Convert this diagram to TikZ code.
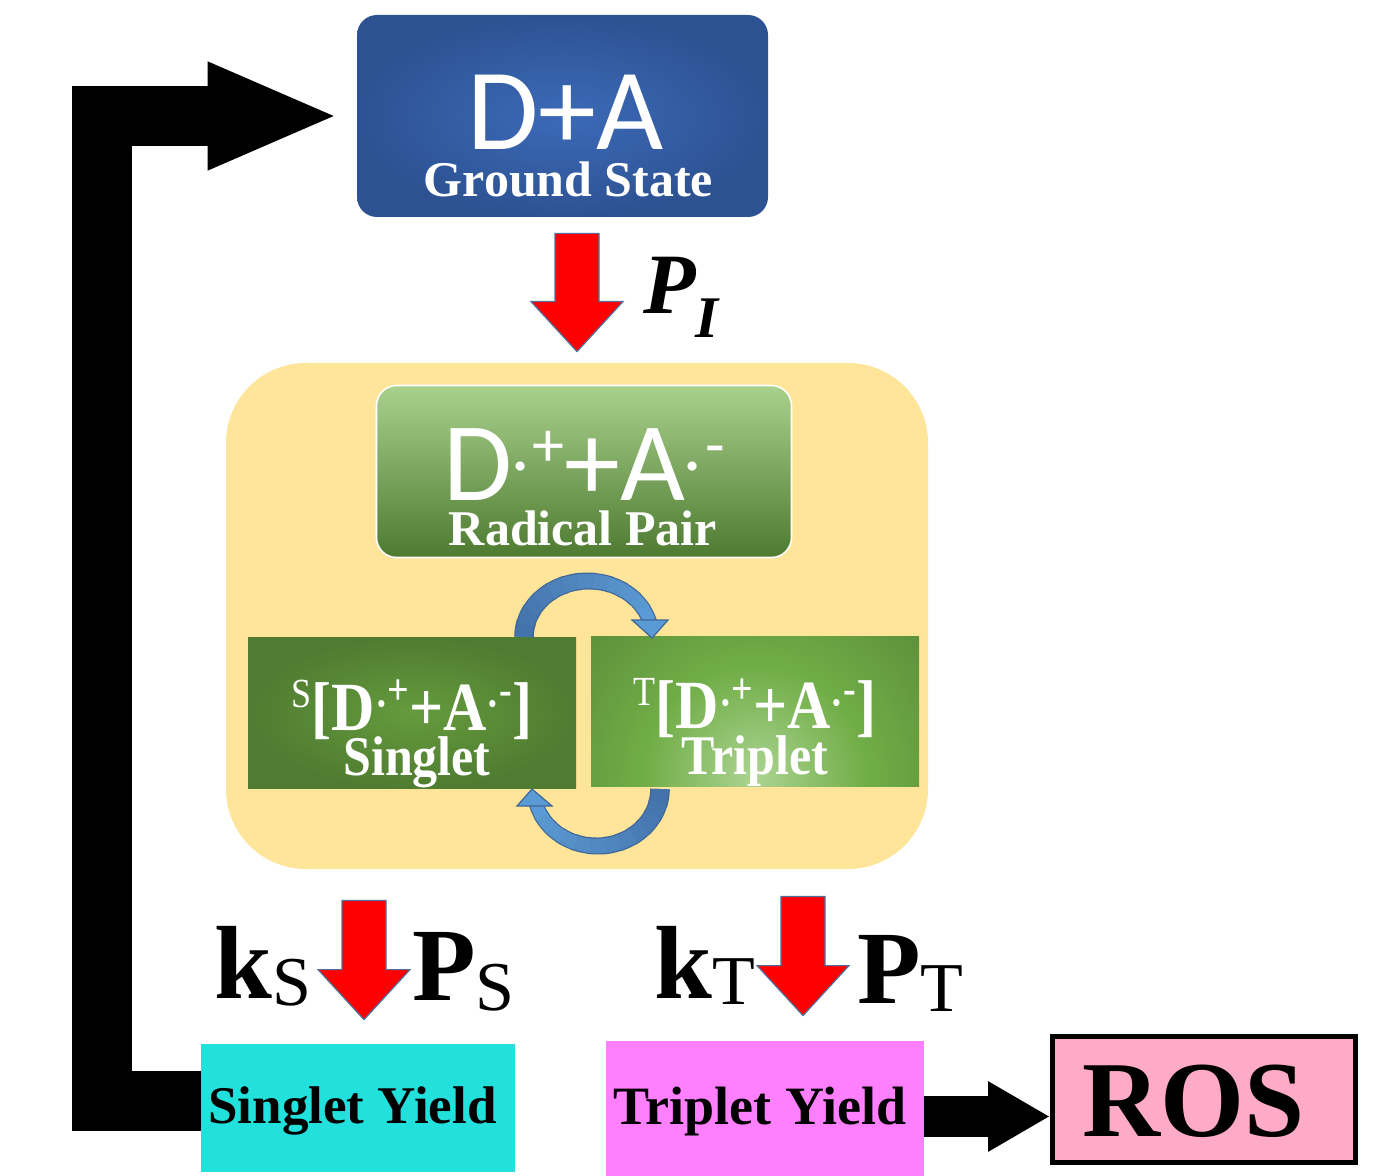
\documentclass[tikz,border=0pt]{standalone}
\usepackage{fontspec}
\setmainfont{Liberation Serif}
\newfontfamily\calfont{Carlito}
\usepackage{graphicx}
\usetikzlibrary{arrows.meta,calc}
\definecolor{gsinner}   {RGB}{ 60,106,184}
\definecolor{gsouter}   {RGB}{ 45, 82,146}
\definecolor{regionfill}{RGB}{255,229,153}
\definecolor{rptop}     {RGB}{169,209,142}
\definecolor{rpmid}     {RGB}{112,173, 71}
\definecolor{rpbot}     {RGB}{ 78,122, 48}
\definecolor{stateinner}{RGB}{101,155, 61}
\definecolor{stateouter}{RGB}{ 79,124, 49}
\definecolor{tripspot}  {RGB}{172,212,146}
\definecolor{flipdark}  {RGB}{ 68,114,170}
\definecolor{fliplight} {RGB}{ 91,155,213}
\definecolor{flipedge}  {RGB}{ 62,102,152}
\definecolor{arrowred}  {RGB}{255,  0,  0}
\definecolor{arrowedge} {RGB}{ 79,112,156}
\definecolor{singyield} {RGB}{ 34,224,220}
\definecolor{tripyield} {RGB}{255,128,255}
\definecolor{rosfill}   {RGB}{255,171,200}
\pgfdeclareradialshading{tripglow}{\pgfpoint{0bp}{0bp}}{%
  color(0bp)=(tripspot); color(9bp)=(rpmid); color(24bp)=(stateouter); color(50bp)=(stateouter)}
% radical superscripts: dot low, charge high
\newcommand\bigrad[1]{{\fontsize{32}{32}\selectfont\raisebox{8pt}{·}\hspace{2pt}\raisebox{17pt}{#1}}}
\newcommand\smallrad[1]{{\fontsize{19}{19}\selectfont\raisebox{5pt}{·}\raisebox{11pt}{#1}}}
\newcommand\spinmark[1]{\raisebox{10pt}{\fontsize{18}{18}\selectfont\mdseries #1}}
\newcommand\ratesub[2]{{\fontsize{35}{35}\selectfont\mdseries\raisebox{-#2}{#1}}}
% red block arrow from #1 down to tip #2
\newcommand\redarrow[2]{%
  \draw[redarr] ($(#1)+(-22,0)$) -- ($(#1)+(22,0)$) -- ($(#2)+(22,-50)$)
    -- ($(#2)+(46,-50)$) -- (#2) -- ($(#2)+(-46,-50)$) -- ($(#2)+(-22,-50)$) -- cycle;}
% curved blue arrow body: centre, radii, start/end angle
\newcommand\fliparc[6]{%
  \foreach \i in {0,...,11}{
    \draw[flipedge,line width={9.8pt-0.22pt*\i}]
      plot[domain={#5+(#6-#5)*\i/12}:{#5+(#6-#5)*(\i+1.15)/12},samples=6,variable=\t]
      ({#1+#3*cos(\t)},{#2+#4*sin(\t)});}
  \foreach \i in {0,...,11}{
    \pgfmathsetmacro\mixval{100-100*\i/11}
    \draw[flipdark!\mixval!fliplight,line width={8.6pt-0.22pt*\i}]
      plot[domain={#5+(#6-#5)*\i/12}:{#5+(#6-#5)*(\i+1.15)/12},samples=6,variable=\t]
      ({#1+#3*cos(\t)},{#2+#4*sin(\t)});}}

\begin{document}
\begin{tikzpicture}[
  x=0.5pt,y=-0.5pt,
  line join=miter,
  gsbox/.style={rounded corners=10pt,minimum width=205.5pt,minimum height=101pt,
    shade,inner color=gsinner,outer color=gsouter,text=white,align=center,inner sep=0pt,
    font=\fontsize{25}{23.5}\selectfont\bfseries},
  regionbox/.style={rounded corners=40pt,fill=regionfill,minimum width=351pt,minimum height=253pt},
  rpbox/.style={rounded corners=10pt,minimum width=207.5pt,minimum height=86pt,
    shade,top color=rptop,middle color=rpmid,bottom color=rpbot,draw=white,line width=0.8pt,
    text=white,align=center,inner sep=0pt,font=\fontsize{25}{22.5}\selectfont\bfseries},
  statebox/.style={minimum width=164pt,minimum height=75.5pt,text=white,align=center,
    inner sep=0pt,font=\fontsize{25}{21}\selectfont\bfseries},
  yieldbox/.style={minimum width=157pt,minimum height=66pt,inner sep=0pt,
    text height=19pt,text depth=3.5pt,font=\fontsize{26.5}{26.5}\selectfont\bfseries},
  ratelabel/.style={inner sep=0pt,font=\fontsize{52}{52}\selectfont\bfseries},
  redarr/.style={fill=arrowred,draw=arrowedge,line width=0.6pt,line join=miter},
  flipheadstyle/.style={fill=fliplight,draw=flipedge,line width=0.6pt,line join=miter},
  loopline/.style={line width=30pt,-{Triangle[length=66pt,width=49pt]}},
  rosline/.style={line width=20.5pt,-{Triangle[length=31pt,width=33pt]}}
]
\useasboundingbox (0,0) rectangle (1376,1176);

% ---- boxes ---------------------------------------------------------------
\node[gsbox] (gs) at (562.5,116)
  {\rule{0pt}{57pt}{\calfont\fontsize{58}{58}\selectfont\mdseries\hspace*{3pt}D+A}\\
   \hspace*{6pt}Ground State};
\node[regionbox] (region) at (577,616) {};
\node[rpbox] (rp) at (584,471.5)
  {\rule{0pt}{52pt}{\calfont\fontsize{56}{56}\selectfont\mdseries D\bigrad{+}+A\bigrad{-}}\\
   Radical Pair\hspace*{1pt}};
\node[statebox,shade,inner color=stateinner,outer color=stateouter] (sing) at (412,713)
  {\rule{0pt}{46pt}\scalebox{1}[1.15]{\fontsize{30}{30}\selectfont\spinmark{S}[D\smallrad{+}+A\smallrad{-}]}\\[-2.5pt]
   \hspace*{5pt}\scalebox{1}[1.12]{Singlet}};
\node[statebox,fill=stateouter,minimum height=74.5pt,
  path picture={\shade[shading=tripglow]
    ([yshift=4pt]path picture bounding box.south) circle (155pt);}] (trip) at (755,711.5)
  {\rule{0pt}{46pt}\scalebox{1}[1.15]{\fontsize{30}{30}\selectfont\spinmark{T}[D\smallrad{+}+A\smallrad{-}]}\\[-2.5pt]
   \scalebox{1}[1.12]{Triplet}};
\node[yieldbox,fill=singyield,minimum width=157pt,minimum height=64pt] (sy) at (358,1108)
  {Singlet Yield\hspace*{5.5pt}};
\node[yieldbox,fill=tripyield,minimum width=159pt,minimum height=67.5pt,
  font=\fontsize{27}{27}\selectfont\bfseries] (ty) at (765,1108.5)
  {Triplet Yield\hspace*{5pt}};
\node[fill=rosfill,draw=black,line width=2.5pt,minimum width=151.5pt,minimum height=63pt,
  inner sep=0pt,text height=38pt,text depth=1pt,font=\fontsize{54}{54}\selectfont\bfseries]
  (ros) at (1204,1099.5) {ROS\hspace*{10pt}};

% ---- spin interconversion ------------------------------------------------
\fliparc{588}{637}{64}{56}{180}{343}
\filldraw[flipheadstyle] (632,620) -- (652,638) -- (668,620) -- cycle;
\fliparc{597}{789}{63}{57}{0}{165}
\filldraw[flipheadstyle] (552,806) -- (532,789) -- (517,806) -- cycle;

% ---- red transition arrows -----------------------------------------------
\coordinate (pi top) at ([yshift=-8pt]gs.south -| region.north);
\coordinate (pi tip) at ([yshift=5.5pt]region.north);
\redarrow{pi top}{pi tip}
\coordinate (ks tip) at ([xshift=3pt,yshift=12pt]sy.north);
\coordinate (ks top) at ([yshift=-15.5pt]region.south -| ks tip);
\redarrow{ks top}{ks tip}
\coordinate (kt tip) at ([xshift=19pt,yshift=12.5pt]ty.north);
\coordinate (kt top) at ([yshift=-13.5pt]region.south -| kt tip);
\redarrow{kt top}{kt tip}

% ---- rate labels ---------------------------------------------------------
\node[ratelabel,anchor=base west,font=\fontsize{43}{43}\selectfont\bfseries\itshape] (pi)
  at (643,314) {P\raisebox{-12pt}{\fontsize{29.5}{29.5}\selectfont I}};
\node[ratelabel,anchor=base west] (ks) at (214,998) {k\ratesub{S}{3.5pt}};
\node[ratelabel,anchor=base west] (ps) at (412,1000) {P\ratesub{S}{5pt}};
\node[ratelabel,anchor=base west] (kt) at (654,998) {k\ratesub{T}{3pt}};
\node[ratelabel,anchor=base west] (pt) at (857,1003) {P\ratesub{T}{4pt}};

% ---- recombination back to ground state and ROS --------------------------
\coordinate (loop) at (102,600);
\draw[loopline] ([yshift=3.75pt]sy.west) -| (loop) |- ([xshift=-8.5pt]gs.west);
\draw[rosline] ([yshift=-4pt]ty.east) -- ([yshift=-4pt]ty.east -| ros.west);

\end{tikzpicture}
\end{document}
